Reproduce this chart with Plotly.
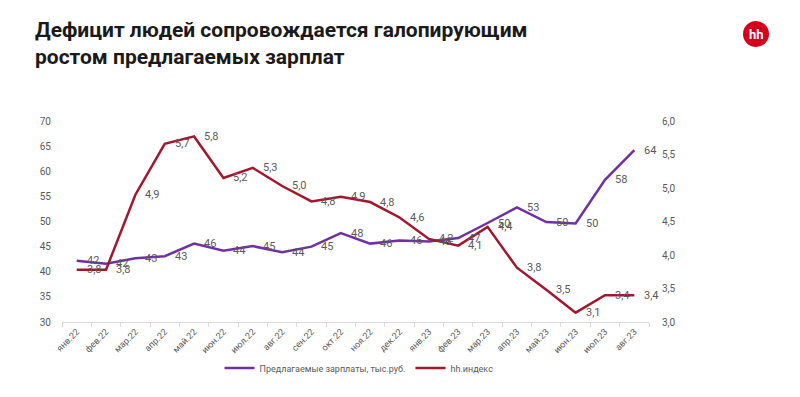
import plotly.graph_objects as go

months = ["янв.22", "фев.22", "мар.22", "апр.22", "май.22", "июн.22", "июл.22", "авг.22",
          "сен.22", "окт.22", "ноя.22", "дек.22", "янв.23", "фев.23", "мар.23", "апр.23",
          "май.23", "июн.23", "июл.23", "авг.23"]
salaries = [42.2, 41.6, 42.7, 43.1, 45.6, 44.2, 45.1, 43.9, 45.0, 47.7, 45.6, 46.2,
            46.0, 46.7, 49.7, 52.8, 49.9, 49.6, 58.3, 64.2]
hh_index = [3.78, 3.78, 4.9, 5.66, 5.77, 5.15, 5.3, 5.03, 4.8, 4.87, 4.79, 4.56,
            4.24, 4.14, 4.42, 3.81, 3.48, 3.14, 3.4, 3.4]
left_ticks = [30, 35, 40, 45, 50, 55, 60, 65, 70]
right_ticks = [3.0, 3.5, 4.0, 4.5, 5.0, 5.5, 6.0]

purple = "#7030A0"
red = "#A3172E"
gray = "#595959"
font = "Roboto"

# page offset (browser body margin) and plot area in reference pixels
OFF = 8
W, H = 800 - OFF, 397 - OFF
L, R, T, B = 62, 649, 121, 322
PW, PH = R - L, B - T


def px_x(x):
    return (x - L) / PW


def px_y(y):
    return (B - y) / PH


fig = go.Figure()
fig.add_trace(go.Scatter(
    x=months, y=salaries, name="Предлагаемые зарплаты, тыс.руб.",
    mode="lines", line=dict(color=purple, width=2.5),
))
fig.add_trace(go.Scatter(
    x=months, y=hh_index, name="hh.индекс", yaxis="y2",
    mode="lines", line=dict(color=red, width=2.5),
))

annotations = []
for m, v in zip(months, salaries):
    annotations.append(dict(x=m, y=v, xref="x", yref="y", text=f"{v:.0f}",
                            xanchor="left", yanchor="middle", xshift=8, showarrow=False,
                            font=dict(size=11, color=gray, family=font)))
for m, v in zip(months, hh_index):
    annotations.append(dict(x=m, y=v, xref="x", yref="y2", text=f"{v:.1f}".replace(".", ","),
                            xanchor="left", yanchor="middle", xshift=8, showarrow=False,
                            font=dict(size=11, color=gray, family=font)))

annotations.append(dict(
    text="<b>Дефицит людей сопровождается галопирующим</b><br><b>ростом предлагаемых зарплат</b>",
    xref="paper", yref="paper", x=px_x(33), y=px_y(16),
    xanchor="left", yanchor="top", align="left", showarrow=False,
    font=dict(family=font, size=21, color="#1A1A1A")))
annotations.append(dict(
    text="<b>hh</b>", xref="paper", yref="paper", x=px_x(756), y=px_y(34),
    xanchor="center", yanchor="middle", showarrow=False,
    font=dict(family=font, size=13, color="white")))

fig.update_layout(
    width=W, height=H,
    paper_bgcolor="white", plot_bgcolor="white",
    separators=", ",
    margin=dict(l=L - OFF, r=W - (R - OFF), t=T - OFF, b=H - (B - OFF), autoexpand=False),
    font=dict(family=font, color=gray, size=10),
    showlegend=True,
    legend=dict(orientation="h", xref="container", yref="container",
                x=(359 - OFF) / W, y=1 - (368 - OFF) / H, xanchor="center", yanchor="middle",
                font=dict(size=9, color=gray, family=font),
                itemwidth=30, tracegroupgap=0),
    xaxis=dict(
        type="category", showgrid=False, showline=True, linecolor="#D9D9D9", linewidth=1,
        ticks="outside", ticklen=4, tickcolor="#D9D9D9", tickson="boundaries",
        tickangle=-45, tickfont=dict(size=9, color=gray, family=font),
        range=[-0.5, len(months) - 0.5], automargin=False,
    ),
    yaxis=dict(
        range=[30, 70], tickvals=left_ticks, showgrid=False, showline=False, zeroline=False,
        tickfont=dict(size=10, color=gray, family=font), ticklabelstandoff=10, automargin=False,
    ),
    yaxis2=dict(
        range=[3.0, 6.0], tickvals=right_ticks, tickformat=".1f", overlaying="y", side="right",
        showgrid=False, showline=False, zeroline=False,
        tickfont=dict(size=10, color=gray, family=font), ticklabelstandoff=12, automargin=False,
    ),
    shapes=[
        dict(type="circle", xref="paper", yref="paper", xsizemode="pixel", ysizemode="pixel",
             xanchor=px_x(756), yanchor=px_y(34),
             x0=-13, x1=13, y0=-13, y1=13, fillcolor="#D6001C", line=dict(width=0)),
        dict(type="line", xref="paper", yref="paper",
             x0=px_x(798), x1=px_x(798), y0=px_y(397), y1=px_y(OFF),
             line=dict(color="#D9D9D9", width=1)),
    ],
    annotations=annotations,
)

fig.write_html("out.html")
